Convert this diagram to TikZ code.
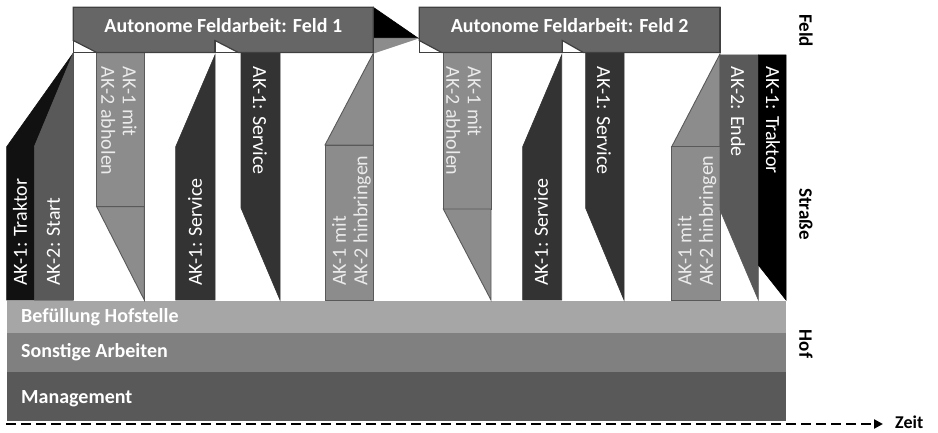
\documentclass[tikz,border=0pt]{standalone}
\usepackage{fontspec}
\setmainfont{Carlito}
\usetikzlibrary{arrows.meta}

\definecolor{boxfill}{HTML}{666666}
\definecolor{boxline}{HTML}{404040}
\definecolor{tonelight}{HTML}{8C8C8C}
\definecolor{tonemid}{HTML}{595959}
\definecolor{tonedark}{HTML}{333333}
\definecolor{toneblack}{HTML}{111111}
\definecolor{hofA}{HTML}{A6A6A6}
\definecolor{hofB}{HTML}{808080}
\definecolor{hofC}{HTML}{595959}
\definecolor{paletext}{HTML}{EBEBEB}

\tikzset{
  feldbox/.style={fill=boxfill, draw=boxline, line width=1.2pt},
  lightshape/.style={fill=tonelight, draw=tonemid, line width=0.9pt},
  midshape/.style={fill=tonemid, draw=tonemid, line width=0.6pt},
  darkshape/.style={fill=tonedark, draw=tonedark, line width=0.6pt},
  blackshape/.style={fill=toneblack, draw=toneblack, line width=0.6pt},
  vlabel/.style={inner sep=0pt, text=white, align=left,
    font=\fontsize{20}{21.5}\selectfont},
  uplabel/.style={vlabel, rotate=90, anchor=west},
  downlabel/.style={vlabel, rotate=-90, anchor=west},
  titlelabel/.style={inner sep=0pt, text=white, anchor=base,
    font=\bfseries\fontsize{20}{24}\selectfont},
  hoflabel/.style={inner sep=0pt, text=white, anchor=base west,
    font=\bfseries\fontsize{20}{24}\selectfont},
  arealabel/.style={inner sep=0pt, text=black, rotate=-90,
    font=\bfseries\fontsize{19}{22}\selectfont},
  timeaxis/.style={line width=2.4pt, dash pattern=on 10pt off 5pt,
    -{Triangle[length=9pt,width=9pt]}, shorten >=12pt}
}

\begin{document}
\begin{tikzpicture}[x=1pt,y=-1pt]
\useasboundingbox (0,0) rectangle (938,433);

% ---- Hof: three stacked activity bands
\fill[hofA] (6.7,300.5) rectangle (786,332.7);
\fill[hofB] (6.7,332.7) rectangle (786,371.5);
\fill[hofC] (6.7,371.5) rectangle (786,421);
\node[hoflabel] (befuellung) at (21,322) {Befüllung Hofstelle};
\node[hoflabel] (sonstige) at (21,357.5) {Sonstige Arbeiten};
\node[hoflabel] (management) at (21,403) {Management};

% ---- Straße: transfers between Hof and Feld 1
\filldraw[blackshape] (6.7,300) -- (6.7,146.7) -- (73.3,53) -- (73.3,300) -- cycle;
\filldraw[midshape] (34.3,300) -- (34.3,146.7) -- (73.3,53) -- (73.3,300) -- cycle;
\node[uplabel] (trakL) at (20,286) {AK-1: Traktor};
\node[uplabel] (startL) at (53.5,286) {AK-2: Start};

\filldraw[lightshape] (96.7,52.7) rectangle (144.3,206.7);
\filldraw[lightshape] (96.7,206.7) -- (144.3,206.7) -- (144.3,300) -- cycle;
\node[downlabel, text=paletext] (abholA) at (119,66.7) {AK-1 mit\\AK-2 abholen};

\filldraw[darkshape] (175.7,300) -- (175.7,146.7) -- (215,55) -- (215,300) -- cycle;
\node[uplabel] (servA) at (195,286) {AK-1: Service};

\filldraw[darkshape] (241,52.7) -- (280,52.7) -- (280,300) -- (241,208) -- cycle;
\node[downlabel] (servB) at (260,66.7) {AK-1: Service};

\filldraw[lightshape] (325,145) -- (373.3,53.3) -- (373.3,145) -- cycle;
\filldraw[lightshape] (325,145) rectangle (373.3,300);
\node[uplabel, text=paletext] (hinA) at (351.5,286) {AK-1 mit\\AK-2 hinbringen};

% ---- move from Feld 1 to Feld 2
\filldraw[fill=black, draw=black, line width=0.6pt] (373.3,7.3) -- (418.3,38.3) -- (373.3,38.3) -- cycle;
\filldraw[fill=tonelight, draw=tonelight, line width=0.6pt] (373.3,38.3) -- (418.3,38.3) -- (373.3,53.3) -- cycle;

% ---- Straße: transfers around Feld 2
\filldraw[lightshape] (443.3,52.3) rectangle (491,209);
\filldraw[lightshape] (443.3,209) -- (491,209) -- (491,300) -- cycle;
\node[downlabel, text=paletext] (abholB) at (464,66.7) {AK-1 mit\\AK-2 abholen};

\filldraw[darkshape] (522.7,300) -- (522.7,146.7) -- (561.7,55) -- (561.7,300) -- cycle;
\node[uplabel] (servC) at (541,286) {AK-1: Service};

\filldraw[darkshape] (585.7,52.3) -- (624,52.3) -- (624,300) -- (585.7,208.3) -- cycle;
\node[downlabel] (servD) at (604,66.7) {AK-1: Service};

\filldraw[lightshape] (671.7,146.7) -- (720,54) -- (720,146.7) -- cycle;
\filldraw[lightshape] (671.7,146.7) rectangle (720,300);
\node[uplabel, text=paletext] (hinB) at (697,286) {AK-1 mit\\AK-2 hinbringen};

\filldraw[midshape] (720,55) -- (758.3,55) -- (758.3,300) -- (720,210) -- cycle;
\node[downlabel] (endeB) at (738,66.7) {AK-2: Ende};

\filldraw[fill=black, draw=black, line width=0.6pt] (758.3,55) -- (786,55) -- (786,300) -- (758.3,265) -- cycle;
\node[downlabel] (trakR) at (773,66.7) {AK-1: Traktor};

% ---- Feld boxes with their notches
\filldraw[feldbox] (73.3,7.3) -- (373.3,7.3) -- (373.3,52.5) -- (238.3,52.5)
  -- (215,40.5) -- (215,52.5) -- (96.7,52.5) -- (73.3,40.5) -- cycle;
\draw[boxline, line width=1.2pt] (73.3,7.3) rectangle (373.3,52.5);
\draw[boxline, line width=1.2pt] (215,40.5) -- (215,52.5);
\node[titlelabel] (feldA) at (223.3,32.3) {Autonome Feldarbeit: Feld 1};

\filldraw[feldbox] (419.3,7.3) -- (720,7.3) -- (720,52.5) -- (583.3,52.5)
  -- (562.3,40.5) -- (562.3,52.5) -- (441.7,52.5) -- (419.3,40.5) -- cycle;
\draw[boxline, line width=1.2pt] (419.3,7.3) rectangle (720,52.5);
\draw[boxline, line width=1.2pt] (562.3,40.5) -- (562.3,52.5);
\node[titlelabel] (feldB) at (569.7,32.3) {Autonome Feldarbeit: Feld 2};

% ---- area labels on the right
\node[arealabel] (feld) at (806,30.5) {Feld};
\node[arealabel] (strasse) at (806,214) {Straße};
\node[arealabel] (hof) at (806,344) {Hof};

% ---- time axis
\coordinate (t0) at (6,424);
\node[inner sep=0pt, anchor=west, font=\bfseries\fontsize{18}{22}\selectfont] (zeit) at (895,422.5) {Zeit};
\draw[timeaxis] (t0) -- (zeit.west |- t0);
\end{tikzpicture}
\end{document}
